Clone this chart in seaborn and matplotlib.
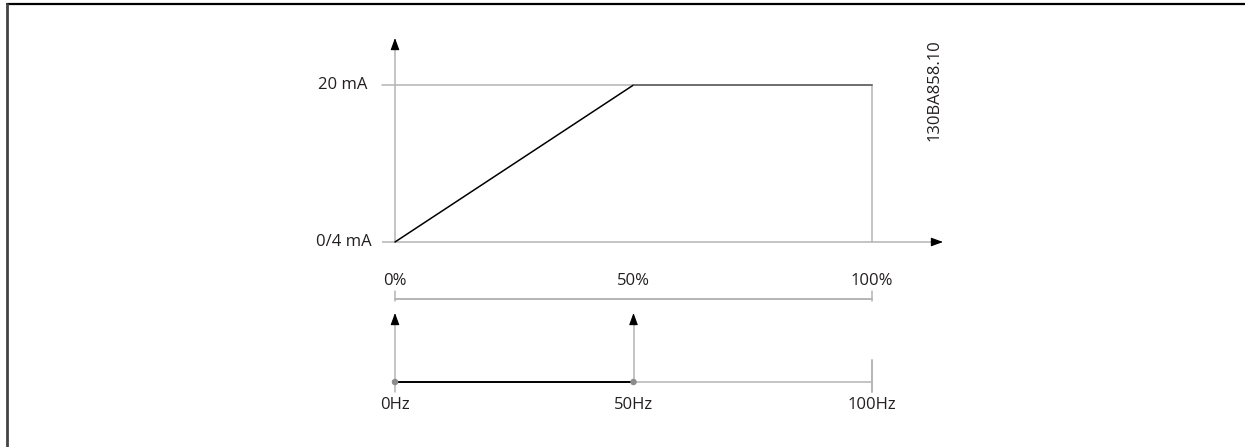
"""
Courbe sortie analogique : 0/4-20 mA en fonction de la référence (%) et de la fréquence (Hz)
"""

import numpy as np
import pandas as pd
import matplotlib
matplotlib.use("Agg")
import matplotlib.pyplot as plt
from matplotlib.lines import Line2D
import seaborn as sns

# --- données ---
REF_PCT    = [0, 50, 100]        # référence en %
OUT_LEVEL  = [0, 1, 1]           # sortie normalisée (0 = 0/4 mA, 1 = 20 mA)
OUT_TICKS  = [0, 1]
OUT_LABELS = ["0/4 mA", "20 mA"]
PCT_TICKS  = [0, 50, 100]
PCT_LABELS = ["0%", "50%", "100%"]
HZ_TICKS   = [0, 50, 100]
HZ_LABELS  = ["0Hz", "50Hz", "100Hz"]
HZ_ACTIVE  = [0, 50]
DRAWING_ID = "130BA858.10"

# --- style ---
W, H = 1245, 447
GREY      = "#b4b4b4"
DARK_GREY = "#6e6e6e"
TXT       = "#231f20"
LW        = 1.1
FS        = 12

sns.set_theme(style="white")
plt.rcParams["font.family"] = ["Open Sans", "DejaVu Sans"]


def px_box(left, right, bottom, top):
    """rectangle en pixels -> coordonnées figure"""
    return [left / W, 1 - bottom / H, (right - left) / W, (bottom - top) / H]


def arrow_head(ax, base, tip):
    ax.annotate("", xy=tip, xytext=base, annotation_clip=False,
                arrowprops=dict(arrowstyle="-|>,head_length=0.6,head_width=0.22",
                                color="black", lw=0.8, mutation_scale=12,
                                shrinkA=0, shrinkB=0))


def axis_arrow(ax, start, tip, head_frac):
    base = (start[0] + (tip[0] - start[0]) * (1 - head_frac),
            start[1] + (tip[1] - start[1]) * (1 - head_frac))
    ax.plot([start[0], base[0]], [start[1], base[1]], color=GREY, lw=LW,
            clip_on=False, solid_capstyle="butt")
    arrow_head(ax, base, tip)


fig = plt.figure(figsize=(W / 100, H / 100), dpi=100)

# cadre (haut + gauche)
fig.add_artist(Line2D([7 / W, 1], [1 - 4 / H, 1 - 4 / H], color="black", lw=1.6))
fig.add_artist(Line2D([7 / W, 7 / W], [0, 1 - 4 / H], color="#444444", lw=2.0))

# ---------- graphique du haut : sortie vs référence ----------
ax = fig.add_axes(px_box(395, 872, 242, 85))
ax.set_xlim(PCT_TICKS[0], PCT_TICKS[-1])
ax.set_ylim(OUT_TICKS[0], OUT_TICKS[-1])
ax.axis("off")

x_unit = (PCT_TICKS[-1] - PCT_TICKS[0]) / 477      # % par pixel
y_unit = (OUT_TICKS[-1] - OUT_TICKS[0]) / 157

# axes avec flèches
axis_arrow(ax, (0, 0), (0, 204 * y_unit), 0.05)
axis_arrow(ax, (-13 * x_unit, 0), (548 * x_unit, 0), 0.02)

# ligne 20 mA
ax.plot([-13 * x_unit, REF_PCT[1]], [OUT_TICKS[1]] * 2, color=GREY, lw=LW, clip_on=False)
# limite 100 %
ax.plot([REF_PCT[-1]] * 2, [OUT_LEVEL[-1], 0], color=GREY, lw=LW, clip_on=False)

curve = pd.DataFrame({"ref": REF_PCT, "out": OUT_LEVEL})
sns.lineplot(data=curve.iloc[:2], x="ref", y="out", color="black", lw=LW,
             ax=ax, clip_on=False)
sns.lineplot(data=curve.iloc[1:], x="ref", y="out", color=DARK_GREY, lw=LW + 0.3,
             ax=ax, clip_on=False)

# étiquettes du courant (bord droit légèrement décalé comme sur le plan)
for t, lab, off in zip(OUT_TICKS, OUT_LABELS, (-23, -28)):
    ax.text(off * x_unit, t, lab, ha="right", va="center", fontsize=FS, color=TXT)

ax.text(540 * x_unit, 152 * y_unit, DRAWING_ID, rotation=90, ha="center", va="center",
        fontsize=FS, color=TXT)

# ---------- graphique du bas : échelle % + Hz ----------
bx = fig.add_axes(px_box(395, 872, 382, 313))
bx.set_xlim(HZ_TICKS[0], HZ_TICKS[-1])
bx.set_ylim(0, 1)
bx.axis("off")

hy = 1 / 69   # unité par pixel vertical

# échelle en %
bx.plot([PCT_TICKS[0], PCT_TICKS[-1]], [83 * hy] * 2, color=GREY, lw=LW + 0.3, clip_on=False)
for t in (PCT_TICKS[0], PCT_TICKS[-1]):
    bx.plot([t, t], [81 * hy, 91 * hy], color=GREY, lw=LW, clip_on=False)
for t, lab in zip(PCT_TICKS, PCT_LABELS):
    bx.text(t, 101 * hy, lab, ha="center", va="center", fontsize=FS, color=TXT)

# ligne de base Hz
bx.plot([HZ_TICKS[0], HZ_TICKS[-1]], [0, 0], color=GREY, lw=LW, clip_on=False)
active = pd.DataFrame({"hz": HZ_ACTIVE, "y": [0] * len(HZ_ACTIVE)})
sns.lineplot(data=active, x="hz", y="y", color="black", lw=LW + 0.3, ax=bx, clip_on=False)

for h in HZ_ACTIVE:
    axis_arrow(bx, (h, 0), (h, 1), 0.15)
sns.scatterplot(data=active, x="hz", y="y", color="#8c8c8c", s=22, edgecolor="none",
                ax=bx, clip_on=False, zorder=5)

bx.plot([HZ_TICKS[0]] * 2, [0, -10 * hy], color=GREY, lw=LW, clip_on=False)
bx.plot([HZ_TICKS[-1]] * 2, [22 * hy, -10 * hy], color=GREY, lw=LW + 0.3, clip_on=False)

for t, lab in zip(HZ_TICKS, HZ_LABELS):
    bx.text(t, -23 * hy, lab, ha="center", va="center", fontsize=FS, color=TXT)

fig.savefig("out.png", dpi=100)
plt.close(fig)
